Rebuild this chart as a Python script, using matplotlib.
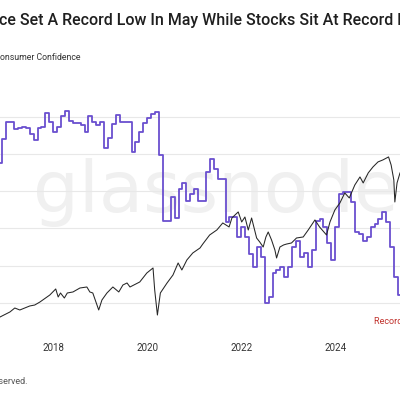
import matplotlib
matplotlib.use("Agg")
import matplotlib.pyplot as plt
import matplotlib.dates as mdates
import pandas as pd

plt.rcParams['font.family'] = ['Roboto', 'DejaVu Sans']

# consumer confidence, monthly values Oct 2016 .. May 2025
cc_start = '2016-10-01'
cc_values = [
    87.6, 94.1, 98.6, 98.6, 96.8, 97.0, 97.3, 97.0, 95.4, 93.8, 97.0, 97.3,
    101.1, 98.6, 95.9, 97.3, 100.3, 101.6, 98.9, 98.4, 98.4, 97.8, 95.9, 100.3,
    98.6, 97.8, 98.6, 91.6, 94.3, 98.1, 100.5, 98.6, 98.6, 98.6, 90.5, 93.2,
    95.9, 98.4, 99.7, 100.8, 101.4, 89.7, 71.9, 71.9, 78.4, 72.7, 80.5, 82.2,
    77.3, 79.2, 80.5, 77.3, 77.3, 85.1, 88.6, 85.9, 83.2, 83.2, 71.6, 73.0,
    73.0, 67.6, 70.5, 67.6, 63.0, 59.7, 65.1, 62.4, 50.0, 51.6, 58.1, 58.9,
    59.7, 57.0, 59.7, 64.9, 66.5, 62.2, 63.5, 59.5, 64.3, 71.9, 72.4, 70.3,
    66.2, 61.6, 70.3, 79.2, 79.7, 79.7, 77.0, 68.9, 68.4, 66.5, 67.8, 70.5,
    71.1, 72.4, 74.3, 71.6, 65.1, 57.0, 52.2, 50.8,
]

spx_dates = [
    '2016-11-13', '2017-01-29', '2017-03-08', '2017-04-16', '2017-07-02', '2017-08-10',
    '2017-09-19', '2017-12-05', '2018-01-20', '2018-02-08', '2018-02-26', '2018-03-28',
    '2018-04-20', '2018-06-03', '2018-07-27', '2018-09-19', '2018-10-12', '2018-11-04',
    '2018-12-20', '2019-01-14', '2019-02-22', '2019-04-09', '2019-05-25', '2019-06-26',
    '2019-07-28', '2019-08-20', '2019-11-04', '2019-12-29', '2020-02-15', '2020-02-28',
    '2020-03-20', '2020-04-12', '2020-06-03', '2020-07-19', '2020-08-28', '2020-09-26',
    '2020-11-04', '2020-12-20', '2021-02-14', '2021-03-08', '2021-04-30', '2021-06-25',
    '2021-08-10', '2021-09-28', '2021-10-20', '2021-11-13', '2021-12-08', '2022-01-04',
    '2022-01-29', '2022-02-24', '2022-03-22', '2022-04-30', '2022-05-24', '2022-06-20',
    '2022-07-11', '2022-07-29', '2022-08-24', '2022-09-19', '2022-10-02', '2022-10-28',
    '2022-11-25', '2022-12-17', '2023-01-26', '2023-03-06', '2023-04-27', '2023-06-05',
    '2023-07-27', '2023-09-01', '2023-10-25', '2023-11-21', '2023-12-29', '2024-02-06',
    '2024-03-15', '2024-04-19', '2024-06-01', '2024-07-11', '2024-08-05', '2024-09-13',
    '2024-10-20', '2024-11-28', '2025-01-05', '2025-02-18', '2025-03-10', '2025-03-31',
    '2025-04-08', '2025-04-25', '2025-05-18',
]
spx_values = [
    2150, 2274, 2372, 2323, 2422, 2446,
    2520, 2693, 2842, 2644, 2743, 2619,
    2743, 2768, 2866, 2891, 2768, 2743,
    2323, 2570, 2743, 2891, 2768, 2940,
    2990, 2891, 3015, 3237, 3360, 2817,
    2199, 2743, 2990, 3187, 3484, 3311,
    3558, 3731, 3854, 3953, 4175, 4299,
    4472, 4373, 4595, 4669, 4744, 4496,
    4619, 4298, 4594, 4100, 4003, 3878,
    4125, 4249, 4051, 3804, 3607, 3878,
    3928, 3950, 3978, 4101, 4126, 4299,
    4546, 4373, 4175, 4497, 4793, 4966,
    5213, 5089, 5410, 5608, 5460, 5707,
    5855, 5979, 6028, 6102, 5904, 5534,
    4990, 5460, 5707,
]

year_ticks = ['2018-01-01', '2020-01-01', '2022-01-01', '2024-01-01']

# each monthly print is shown from the end of its month
cc_dates = pd.date_range(cc_start, periods=len(cc_values), freq='MS') + pd.offsets.MonthBegin(1)
spx_dates = pd.to_datetime(spx_dates)

fig = plt.figure(figsize=(4, 4), dpi=100)
ax = fig.add_axes([0, 0.175, 1, 0.63])
ax2 = ax.twinx()

ax.step(cc_dates, cc_values, where='post', color='#6a4fcf', lw=1.3, zorder=3)
ax2.plot(spx_dates, spx_values, color='#262626', lw=0.75, zorder=3)

ax.set_xlim(pd.Timestamp('2016-11-13'), pd.Timestamp('2025-05-18'))
ax.set_ylim(42.7, 110.4)
ax2.set_ylim(1829, 8051)

ax.set_yticks([50, 60, 70, 80, 90, 100])
ax.grid(axis='y', color='#e8e8e8', lw=0.8)
ax.set_xticks(pd.to_datetime(year_ticks))
ax.xaxis.set_major_formatter(mdates.DateFormatter('%Y'))
ax.tick_params(axis='x', length=0, pad=9.5, labelsize=7, labelcolor='#333333')
ax.tick_params(axis='y', length=0, labelleft=False)
ax2.set_yticks([])
for a in (ax, ax2):
    for s in a.spines.values():
        s.set_visible(False)

# watermark
ax.text(216 / 400, 1 - 212 / 400, 'glassnode', transform=fig.transFigure,
        ha='center', va='baseline', fontsize=52, color='#f0f0f0',
        family='DejaVu Sans', zorder=0)

fig.text(-0.003, 1 - 20 / 400, 'ce Set A Record Low In May While Stocks Sit At Record Highs',
         fontsize=11.5, fontweight='medium', color='#1f1f1f', va='center')
fig.text(0.0, 1 - 58 / 400, 'onsumer Confidence', fontsize=6.3, color='#333333', va='center')
fig.text(374 / 400, 1 - 322 / 400, 'Record Low', fontsize=6.5, color='#c0302b', va='center')
fig.text(28 / 400, 1 - 382 / 400, 'All Rights Reserved.', fontsize=6.5, color='#555555',
         ha='right', va='center')

fig.savefig('out.png', dpi=100)
